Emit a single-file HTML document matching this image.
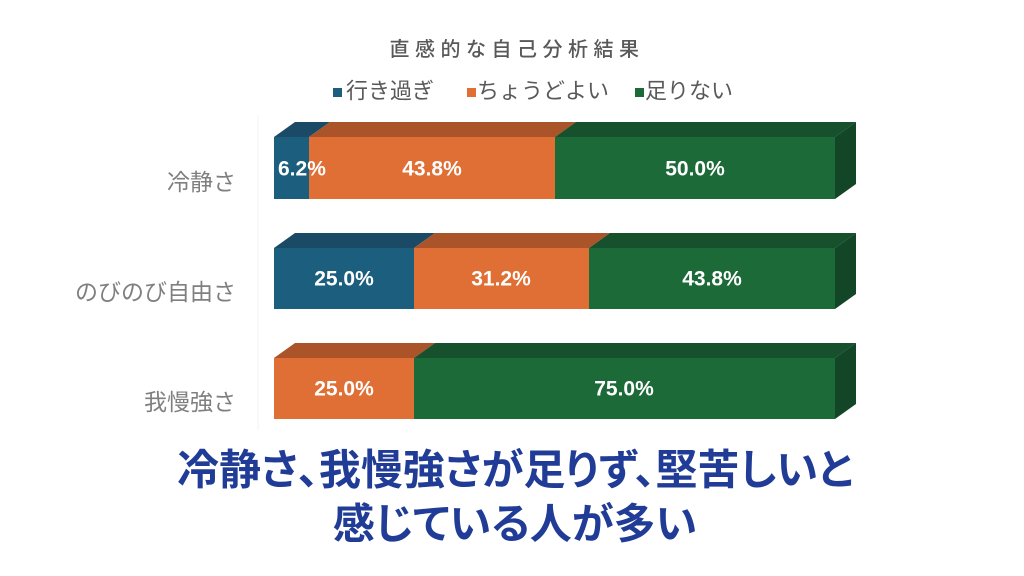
<!DOCTYPE html>
<html>
<head>
<meta charset="utf-8">
<style>
html,body{margin:0;padding:0;background:#fff;}
body{width:1024px;height:576px;overflow:hidden;}
svg{display:block;}
.jp{font-family:"Liberation Sans","Noto Sans CJK JP",sans-serif;}
.num{font-family:"Liberation Sans",sans-serif;font-weight:bold;font-size:21px;fill:#fff;}
</style>
</head>
<body>
<svg width="1024" height="576" viewBox="0 0 1024 576" xmlns="http://www.w3.org/2000/svg">
  <rect width="1024" height="576" fill="#fff"/>
  <!-- title -->
  <text x="517" y="50" class="jp" font-size="20" font-weight="500" fill="#595959" text-anchor="middle" dominant-baseline="central" letter-spacing="5.5">直感的な自己分析結果</text>
  <!-- legend -->
  <rect x="333" y="88" width="9" height="9" fill="#1c5e7e"/>
  <text x="346" y="91" class="jp" font-size="22" fill="#595959" dominant-baseline="central">行き過ぎ</text>
  <rect x="467" y="88" width="9" height="9" fill="#df6f34"/>
  <text x="477" y="91" class="jp" font-size="22" fill="#595959" dominant-baseline="central">ちょうどよい</text>
  <rect x="635" y="88" width="9" height="9" fill="#1c6a38"/>
  <text x="645" y="91" class="jp" font-size="22" fill="#595959" dominant-baseline="central">足りない</text>

  <!-- faint axis -->
  <line x1="258" y1="115" x2="258" y2="430" stroke="#f3f3f3" stroke-width="1"/>

  <!-- Row 1 -->
  <g>
    <polygon points="274,137 309,137 330,122 295,122" fill="#1a4a66"/>
    <polygon points="309,137 555,137 576,122 330,122" fill="#ab5429"/>
    <polygon points="555,137 835,137 856,122 576,122" fill="#17502c"/>
    <polygon points="835,137 856,122 856,184 835,199" fill="#134626"/>
    <rect x="274" y="137" width="35" height="62" fill="#1c5e7e"/>
    <rect x="309" y="137" width="246" height="62" fill="#df6f34"/>
    <rect x="555" y="137" width="280" height="62" fill="#1c6a38"/>
    <text x="278" y="169" class="num" dominant-baseline="central">6.2%</text>
    <text x="432" y="169" class="num" text-anchor="middle" dominant-baseline="central">43.8%</text>
    <text x="695" y="169" class="num" text-anchor="middle" dominant-baseline="central">50.0%</text>
  </g>

  <!-- Row 2 -->
  <g>
    <polygon points="274,248 414,248 435,233 295,233" fill="#1a4a66"/>
    <polygon points="414,248 589,248 610,233 435,233" fill="#ab5429"/>
    <polygon points="589,248 835,248 856,233 610,233" fill="#17502c"/>
    <polygon points="835,248 856,233 856,294 835,309" fill="#134626"/>
    <rect x="274" y="248" width="140" height="61" fill="#1c5e7e"/>
    <rect x="414" y="248" width="175" height="61" fill="#df6f34"/>
    <rect x="589" y="248" width="246" height="61" fill="#1c6a38"/>
    <text x="344" y="279" class="num" text-anchor="middle" dominant-baseline="central">25.0%</text>
    <text x="501" y="279" class="num" text-anchor="middle" dominant-baseline="central">31.2%</text>
    <text x="712" y="279" class="num" text-anchor="middle" dominant-baseline="central">43.8%</text>
  </g>

  <!-- Row 3 -->
  <g>
    <polygon points="274,358 414,358 435,343 295,343" fill="#ab5429"/>
    <polygon points="414,358 835,358 856,343 435,343" fill="#17502c"/>
    <polygon points="835,358 856,343 856,404 835,419" fill="#134626"/>
    <rect x="274" y="358" width="140" height="61" fill="#df6f34"/>
    <rect x="414" y="358" width="421" height="61" fill="#1c6a38"/>
    <text x="344" y="389" class="num" text-anchor="middle" dominant-baseline="central">25.0%</text>
    <text x="624" y="389" class="num" text-anchor="middle" dominant-baseline="central">75.0%</text>
  </g>

  <!-- category labels -->
  <text x="236" y="182" class="jp" font-size="23" fill="#7f7f7f" text-anchor="end" dominant-baseline="central">冷静さ</text>
  <text x="236" y="292" class="jp" font-size="23" fill="#7f7f7f" text-anchor="end" dominant-baseline="central">のびのび自由さ</text>
  <text x="236" y="402" class="jp" font-size="23" fill="#7f7f7f" text-anchor="end" dominant-baseline="central">我慢強さ</text>

  <!-- conclusion -->
  <text x="515" y="470" class="jp" font-size="42" font-weight="bold" fill="#203c96" text-anchor="middle" dominant-baseline="central" style="font-feature-settings:'palt';">冷静さ、我慢強さが足りず、堅苦しいと</text>
  <text x="515" y="524" class="jp" font-size="42" font-weight="bold" fill="#203c96" text-anchor="middle" dominant-baseline="central" style="font-feature-settings:'palt';">感じている人が多い</text>
</svg>
</body>
</html>
